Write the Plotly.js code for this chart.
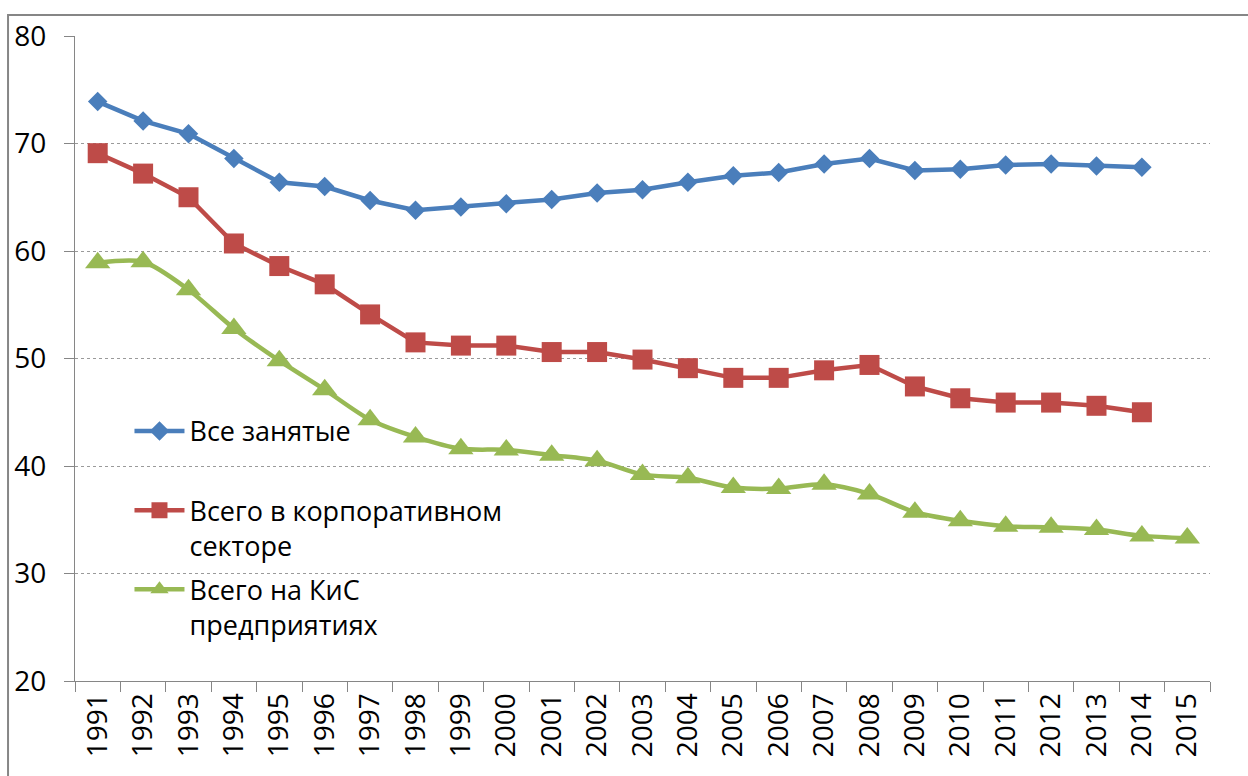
<!DOCTYPE html>
<html>
<head>
<meta charset="utf-8">
<script src="https://cdn.plot.ly/plotly-3.0.1.min.js"></script>
<style>html,body{margin:0;padding:0;background:#fff;}#chart{width:1248px;height:776px;}</style>
</head>
<body>
<div id="chart"></div>
<script>
const years = ["1991","1992","1993","1994","1995","1996","1997","1998","1999","2000","2001","2002","2003","2004","2005","2006","2007","2008","2009","2010","2011","2012","2013","2014","2015"];
const allEmployed = [73.9,72.1,70.9,68.6,66.4,66.0,64.7,63.8,64.1,64.4,64.8,65.4,65.7,66.4,67.0,67.3,68.1,68.6,67.5,67.6,68.0,68.1,67.9,67.8,null];
const corporate = [69.1,67.2,65.0,60.7,58.6,56.9,54.1,51.5,51.2,51.2,50.6,50.6,49.9,49.1,48.2,48.2,48.9,49.4,47.4,46.3,45.9,45.9,45.6,45.0,null];
const largeMedium = [58.9,59.0,56.4,52.8,49.8,47.1,44.3,42.7,41.6,41.5,41.0,40.5,39.2,38.9,38.0,37.9,38.3,37.4,35.7,34.9,34.4,34.3,34.1,33.5,33.3];
const seriesNames = ["Все занятые<br>\u00a0","Всего в корпоративном<br>секторе","Всего на КиС<br>предприятиях"];
const yTicks = [20,30,40,50,60,70,80];

const FONT = "Open Sans, Noto Sans, sans-serif";
const traces = [
  {x: years, y: allEmployed, name: seriesNames[0], type: "scatter", mode: "lines+markers",
   legendgroup: "a", line: {color: "#4A7EBB", width: 4.5}, marker: {symbol: "diamond", size: 15, color: "#4A7EBB"}},
  {x: years, y: corporate, name: seriesNames[1], type: "scatter", mode: "lines+markers",
   legendgroup: "b", line: {color: "#BE4B48", width: 4.5}, marker: {symbol: "square", size: 20, color: "#BE4B48"}},
  {x: years, y: largeMedium, name: seriesNames[2], type: "scatter", mode: "lines+markers",
   legendgroup: "c", line: {color: "#98B954", width: 4.5, shape: "spline", smoothing: 0.8}, marker: {symbol: "triangle-up", size: 22, color: "#98B954"}}
];

const layout = {
  width: 1248, height: 776,
  paper_bgcolor: "#fff", plot_bgcolor: "#fff",
  margin: {l: 75, r: 38, t: 36, b: 95},
  showlegend: true,
  legend: {x: 0.048, xanchor: "left", y: 0.425, yanchor: "top", bgcolor: "rgba(0,0,0,0)",
           font: {family: FONT, size: 27, color: "#000"}, itemwidth: 50, valign: "top",
           traceorder: "grouped", tracegroupgap: 6},
  xaxis: {type: "category", tickvals: years, ticktext: years, tickangle: -90, tickson: "boundaries",
          ticks: "outside", ticklen: 10, tickcolor: "#868686", showline: true, linecolor: "#868686", linewidth: 1,
          showgrid: false, zeroline: false, tickfont: {family: FONT, size: 28, color: "#000"}, range: [-0.5, 24.5]},
  yaxis: {range: [20, 80], tickvals: yTicks, ticks: "outside", ticklen: 10, tickcolor: "#868686",
          showline: true, linecolor: "#868686", linewidth: 1, showgrid: true, gridcolor: "#9a9a9a", griddash: "dot", gridwidth: 1,
          zeroline: false, tickfont: {family: FONT, size: 28, color: "#000"}, ticklabelstandoff: 12},
  shapes: [{type: "rect", xref: "paper", yref: "paper", x0: -0.059, x1: 1.04, y0: -0.16, y1: 1.0326,
            line: {color: "#868686", width: 2}, fillcolor: "rgba(0,0,0,0)", layer: "below"}]
};
Plotly.newPlot("chart", traces, layout, {displayModeBar: false, staticPlot: true});
</script>
</body>
</html>
